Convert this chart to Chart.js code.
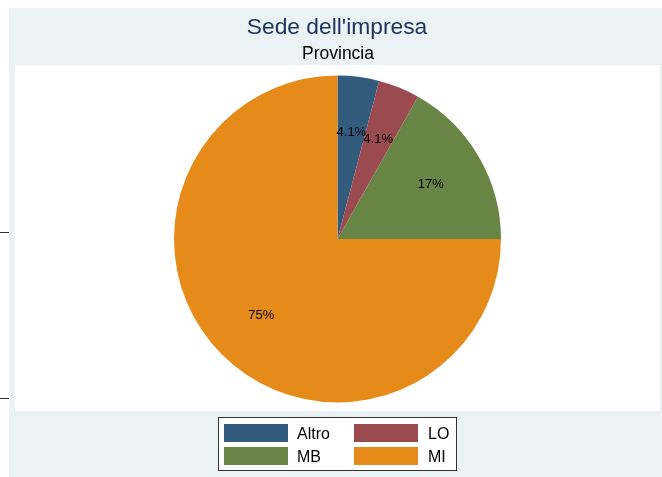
<!DOCTYPE html>
<html>
<head>
<meta charset="utf-8">
<script src="https://cdn.jsdelivr.net/npm/chart.js@4"></script>
<style>
  html, body { margin: 0; padding: 0; background: #fff; }
  #chart { display: block; }
</style>
</head>
<body>
<canvas id="chart" width="662" height="477"></canvas>
<script>
// Sede dell'impresa - provincia
const categories = ['Altro', 'LO', 'MB', 'MI'];
const shares = [4.1, 4.1, 16.8, 75];
const shareLabels = ['4.1%', '4.1%', '17%', '75%'];
const colors = ['#335b7e', '#9b4b50', '#698545', '#e68b1a'];

const FONT = '"Liberation Sans", Arial, Helvetica, sans-serif';

/**
 * Stata-like background, titles, slice labels and boxed legend
 */
const stataFrame = {
  id: 'stataFrame',
  beforeDraw(chart) {
    const c = chart.ctx;
    c.save();
    c.fillStyle = '#ffffff';
    c.fillRect(0, 0, chart.width, chart.height);
    c.fillStyle = '#eaf2f3';
    c.fillRect(9, 8, chart.width - 9, chart.height - 8);
    c.fillStyle = '#ffffff';
    c.fillRect(15, 65, 645, 346);

    // stray axis ticks on the left edge
    c.strokeStyle = '#333333';
    c.lineWidth = 1;
    [232.5, 398.5].forEach(y => {
      c.beginPath();
      c.moveTo(0, y);
      c.lineTo(9, y);
      c.stroke();
    });

    c.textAlign = 'center';
    c.textBaseline = 'alphabetic';
    c.fillStyle = '#1e3560';
    c.font = '22.8px ' + FONT;
    c.fillText("Sede dell'impresa", 337, 34);
    c.fillStyle = '#000000';
    c.font = '17.5px ' + FONT;
    c.fillText('Provincia', 338, 59);
    c.restore();
  },
  afterDatasetsDraw(chart) {
    const c = chart.ctx;
    const meta = chart.getDatasetMeta(0);
    c.save();
    c.fillStyle = '#000000';
    c.font = '13px ' + FONT;
    c.textAlign = 'center';
    c.textBaseline = 'middle';
    meta.data.forEach((arc, i) => {
      const mid = (arc.startAngle + arc.endAngle) / 2;
      const r = arc.outerRadius * 0.66;
      c.fillText(shareLabels[i], arc.x + Math.cos(mid) * r, arc.y + Math.sin(mid) * r);
    });
    c.restore();
  },
  afterDraw(chart) {
    const c = chart.ctx;
    c.save();
    c.fillStyle = '#ffffff';
    c.fillRect(218, 417, 239, 54);
    c.strokeStyle = '#333333';
    c.lineWidth = 1;
    c.strokeRect(218.5, 417.5, 238, 53);

    c.font = '16px ' + FONT;
    c.textAlign = 'left';
    c.textBaseline = 'alphabetic';
    categories.forEach((name, i) => {
      const col = i % 2;
      const row = Math.floor(i / 2);
      const sx = col === 0 ? 224 : 354;
      const sy = row === 0 ? 424 : 447;
      c.fillStyle = colors[i];
      c.fillRect(sx, sy, 64, 18);
      c.fillStyle = '#000000';
      c.fillText(name, col === 0 ? 297 : 428, row === 0 ? 439 : 462);
    });
    c.restore();
  }
};

new Chart(document.getElementById('chart'), {
  type: 'pie',
  data: {
    labels: categories,
    datasets: [{
      data: shares,
      backgroundColor: colors,
      borderWidth: 0
    }]
  },
  options: {
    responsive: false,
    animation: false,
    layout: {
      padding: { left: 174, right: 161, top: 75, bottom: 74 }
    },
    plugins: {
      legend: { display: false },
      tooltip: { enabled: false },
      title: { display: false }
    }
  },
  plugins: [stataFrame]
});
</script>
</body>
</html>
